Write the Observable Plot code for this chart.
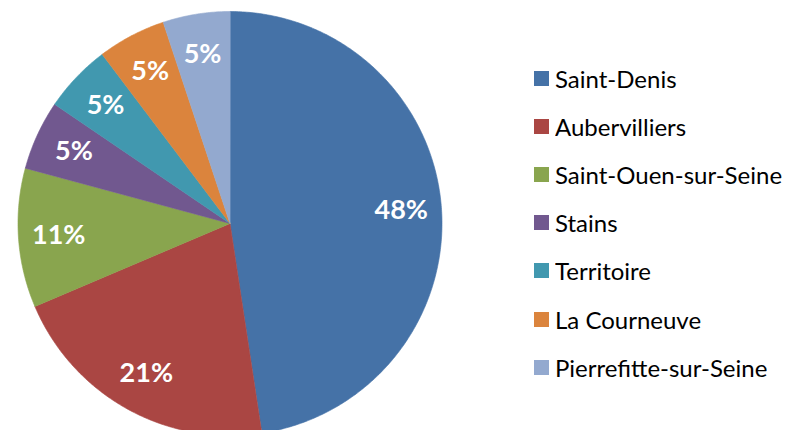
<!DOCTYPE html>
<html>
<head>
<meta charset="utf-8">
<script src="https://cdn.jsdelivr.net/npm/d3@7"></script>
<script src="https://cdn.jsdelivr.net/npm/@observablehq/plot@0.6"></script>
<style>
  html, body { margin: 0; padding: 0; background: #fff; }
  #wrap { position: relative; width: 786px; height: 430px; overflow: hidden; }
  #pie { position: absolute; left: 0; top: 0; }
  #legend { position: absolute; left: 534px; top: 54px; }
  .lg-swatch { height: 48.2px; padding-bottom: 0 !important; }
  .lg-swatch > svg { margin-right: 6px !important; }
  .lg-swatch-label { color: #000; }
</style>
</head>
<body>
<div id="wrap"><div id="pie"></div><div id="legend"></div></div>
<script>
// Data
const names = ["Saint-Denis", "Aubervilliers", "Saint-Ouen-sur-Seine", "Stains", "Territoire", "La Courneuve", "Pierrefitte-sur-Seine"];
const shares = [47.6, 21.0, 10.6, 5.3, 5.2, 5.2, 5.1];
const colors = ["#4572A7", "#AA4643", "#89A54E", "#71588F", "#4198AF", "#DB843D", "#93A9CF"];

// Layout
const W = 786, H = 430;
const cx = 229.5, cy = 223, R = 212;
const labelRadius = 0.81;

const total = d3.sum(shares);
const arcs = d3.pie().sort(null).value(d => d)(shares);

// Build slice polygons in unit coordinates (y up, angle clockwise from top)
const slices = [];
arcs.forEach((a, i) => {
  slices.push({name: names[i], x: 0, y: 0});
  const n = Math.max(4, Math.ceil((a.endAngle - a.startAngle) / 0.01));
  for (let k = 0; k <= n; k++) {
    const t = a.startAngle + (a.endAngle - a.startAngle) * k / n;
    slices.push({name: names[i], x: Math.sin(t), y: Math.cos(t)});
  }
});

const labels = arcs.map((a, i) => {
  const m = (a.startAngle + a.endAngle) / 2;
  return {name: names[i], x: labelRadius * Math.sin(m), y: labelRadius * Math.cos(m),
          text: Math.round(shares[i] / total * 100) + "%"};
});

const chart = Plot.plot({
  width: W,
  height: H,
  margin: 0,
  x: {domain: [-1, 1], range: [cx - R, cx + R], axis: null},
  y: {domain: [-1, 1], range: [cy + R, cy - R], axis: null},
  color: {domain: names, range: colors},
  marks: [
    Plot.line(slices, {x: "x", y: "y", z: "name", fill: "name", stroke: "name", strokeWidth: 0.6, curve: "linear-closed"}),
    Plot.text(labels, {x: "x", y: "y", text: "text", fill: "white", fontSize: 27, fontWeight: "bold", fontFamily: "Lato"})
  ],
  style: {background: "transparent"}
});
document.getElementById("pie").appendChild(chart);

const legend = Plot.legend({
  color: {domain: names, range: colors},
  legend: "swatches",
  columns: 1,
  swatchSize: 15,
  className: "lg",
  style: {fontFamily: "Lato", fontSize: "24px", color: "#000", margin: 0}
});
document.getElementById("legend").appendChild(legend);
</script>
</body>
</html>
